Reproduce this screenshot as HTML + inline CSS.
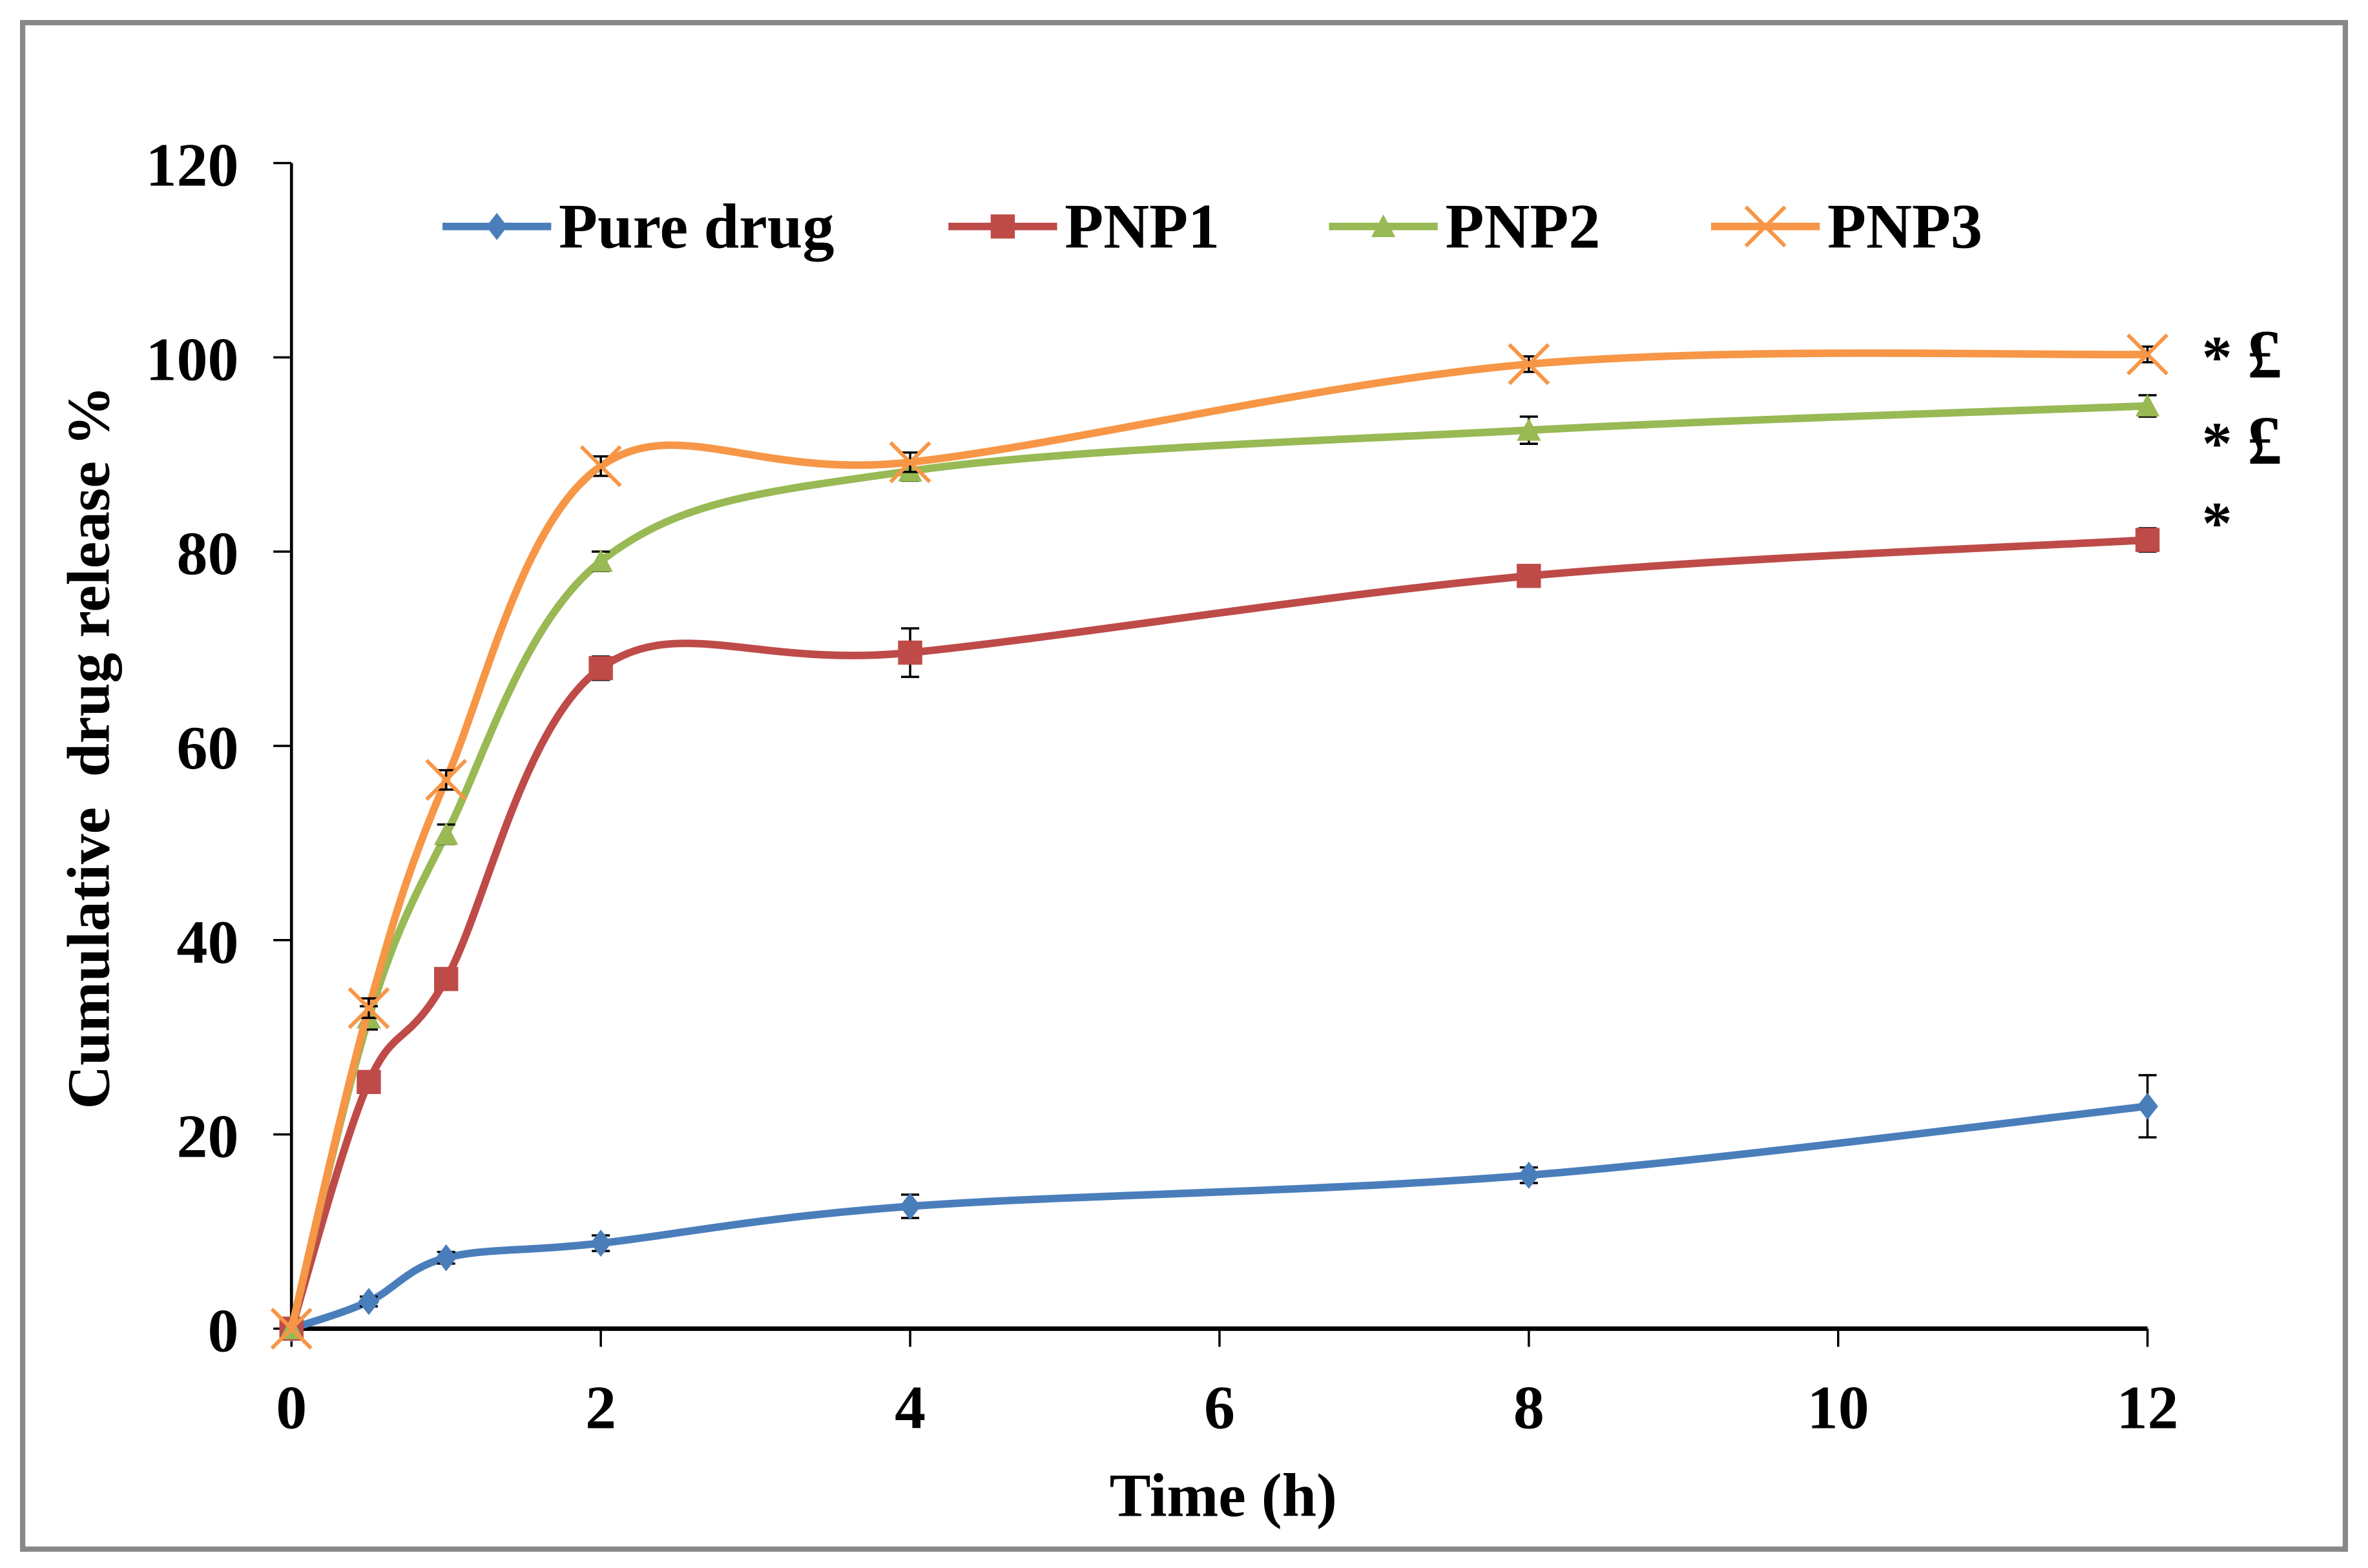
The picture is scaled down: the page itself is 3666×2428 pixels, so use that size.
<!DOCTYPE html>
<html><head><meta charset="utf-8"><style>
html,body{margin:0;padding:0;background:#fff}
svg{display:block}
text{font-family:"Liberation Serif",serif;font-weight:bold;fill:#000}
</style></head><body>
<svg id="chart" width="3666" height="2428" viewBox="0 0 1568 1038.5" preserveAspectRatio="none" xmlns="http://www.w3.org/2000/svg">
<rect x="15" y="15" width="1538" height="1011" fill="#fff" stroke="#888" stroke-width="3.5"/>
<g id="axes"></g>
<g id="series"></g>
<text x="810" y="1004" font-size="41" text-anchor="middle">Time (h)</text>
<text transform="translate(72,495) rotate(-90)" font-size="40" text-anchor="middle" xml:space="preserve">Cumulative  drug release %</text>
<g id="legend"></g>
<text x="1458" y="250" font-size="40">* <tspan font-size="46">£</tspan></text>
<text x="1458" y="307" font-size="40">* <tspan font-size="46">£</tspan></text>
<text x="1458" y="360" font-size="40">*</text>
</svg>
<script>
const times = [0, 0.5, 1, 2, 4, 8, 12];
const seriesNames = ["Pure drug", "PNP1", "PNP2", "PNP3"];
const pureDrug = [0, 2.8, 7.3, 8.8, 12.6, 15.8, 22.9];
const pnp1 = [0, 25.4, 36, 68, 69.6, 77.5, 81.2];
const pnp2 = [0, 32, 50.9, 79, 88.3, 92.5, 95];
const pnp3 = [0, 33, 56.5, 88.8, 89.2, 99.3, 100.3];
const errPure = [0, 0.5, 0.6, 0.8, 1.2, 0.8, 3.2];
const errPnp1 = [0, 0.8, 0.8, 1.2, 2.5, 0.8, 1.2];
const errPnp2 = [0, 1.2, 1.0, 1.0, 1.0, 1.4, 1.1];
const errPnp3 = [0, 1.0, 1.0, 1.0, 1.0, 0.8, 0.8];
const xTicks = [0, 2, 4, 6, 8, 10, 12];
const yTicks = [0, 20, 40, 60, 80, 100, 120];

const NS = "http://www.w3.org/2000/svg";
const X0 = 193, X1 = 1422, Y0 = 880, Y1 = 108;
const xs = v => X0 + (v - 0) / 12 * (X1 - X0);
const ys = v => Y0 - v / 120 * (Y0 - Y1);
function mk(tag, attrs, parent) {
  const e = document.createElementNS(NS, tag);
  for (const k in attrs) e.setAttribute(k, attrs[k]);
  parent.appendChild(e);
  return e;
}
const axes = document.getElementById("axes");
let e;
e = mk("line", {x1: X0, y1: Y1, x2: X0, y2: Y0, stroke: "#000", "stroke-width": 2}, axes);


e = mk("line", {x1: X0, y1: Y0, x2: X1, y2: Y0, stroke: "#000", "stroke-width": 3}, axes);


yTicks.forEach(t => {
  const y = ys(t);
  let l = mk("line", {x1: X0 - 12, y1: y, x2: X0, y2: y, stroke: "#000", "stroke-width": 1.5}, axes);
  
  
  let tx = mk("text", {x: 158, y: y + 15, "font-size": 41, "text-anchor": "end"}, axes);
  tx.textContent = t;
  
  
});
xTicks.forEach(t => {
  const x = xs(t);
  let l = mk("line", {x1: x, y1: Y0, x2: x, y2: Y0 + 12, stroke: "#000", "stroke-width": 1.5}, axes);
  
  
  let tx = mk("text", {x: x, y: 946, "font-size": 41, "text-anchor": "middle"}, axes);
  tx.textContent = t;
  
  
});

function smoothPath(pts) {
  let d = "M" + pts[0][0] + "," + pts[0][1];
  for (let i = 0; i < pts.length - 1; i++) {
    const p0 = pts[i - 1] || pts[i], p1 = pts[i], p2 = pts[i + 1], p3 = pts[i + 2] || p2;
    const c1 = [p1[0] + (p2[0] - p0[0]) / 6, p1[1] + (p2[1] - p0[1]) / 6];
    const c2 = [p2[0] - (p3[0] - p1[0]) / 6, p2[1] - (p3[1] - p1[1]) / 6];
    d += " C" + c1 + " " + c2 + " " + p2;
  }
  return d;
}
function marker(kind, x, y, color, g) {
  let m;
  if (kind === "diamond") m = mk("polygon", {points: `${x},${y-9} ${x+7},${y} ${x},${y+9} ${x-7},${y}`, fill: color}, g);
  else if (kind === "square") m = mk("rect", {x: x - 8, y: y - 8, width: 16, height: 16, fill: color}, g);
  else if (kind === "triangle") m = mk("polygon", {points: `${x},${y-8} ${x+8},${y+7} ${x-8},${y+7}`, fill: color}, g);
  else m = mk("path", {d: `M${x-13},${y-13}L${x+13},${y+13}M${x+13},${y-13}L${x-13},${y+13}`, stroke: color, "stroke-width": 2.5, fill: "none"}, g);
  return m;
}
const seriesDefs = [
  {vals: pureDrug, err: errPure, color: "#4a7ebb", mk: "diamond", name: "series-pure-drug"},
  {vals: pnp1, err: errPnp1, color: "#be4b48", mk: "square", name: "series-pnp1"},
  {vals: pnp2, err: errPnp2, color: "#98b954", mk: "triangle", name: "series-pnp2"},
  {vals: pnp3, err: errPnp3, color: "#f79646", mk: "x", name: "series-pnp3"}
];
const sg = document.getElementById("series");
seriesDefs.forEach(s => {
  const g = mk("g", {}, sg);
  
  
  const pts = times.map((t, i) => [xs(t), ys(s.vals[i])]);
  const p = mk("path", {d: smoothPath(pts), fill: "none", stroke: s.color, "stroke-width": 5, "stroke-linejoin": "round"}, g);
  
  
  times.forEach((t, i) => {
    const x = xs(t), yh = ys(s.vals[i] + s.err[i]), yl = ys(s.vals[i] - s.err[i]);
    if (s.err[i] > 0) {
      const eb = mk("path", {d: `M${x},${yh}L${x},${yl}M${x-6},${yh}L${x+6},${yh}M${x-6},${yl}L${x+6},${yl}`, stroke: "#000", "stroke-width": 1.5, fill: "none"}, g);
      
      
    }
    const m = marker(s.mk, x, ys(s.vals[i]), s.color, g);
    
    
  });
});
const lg = document.getElementById("legend");
const legendX = [293, 628, 880, 1133];
seriesDefs.forEach((s, i) => {
  const g = mk("g", {}, lg);
  
  
  const x = legendX[i];
  mk("line", {x1: x, y1: 150, x2: x + 72, y2: 150, stroke: s.color, "stroke-width": 5}, g);
  marker(s.mk, x + 36, 150, s.color, g);
  const t = mk("text", {x: x + 77, y: 164, "font-size": 42}, g);
  t.textContent = seriesNames[i];
});
</script>
</body></html>
